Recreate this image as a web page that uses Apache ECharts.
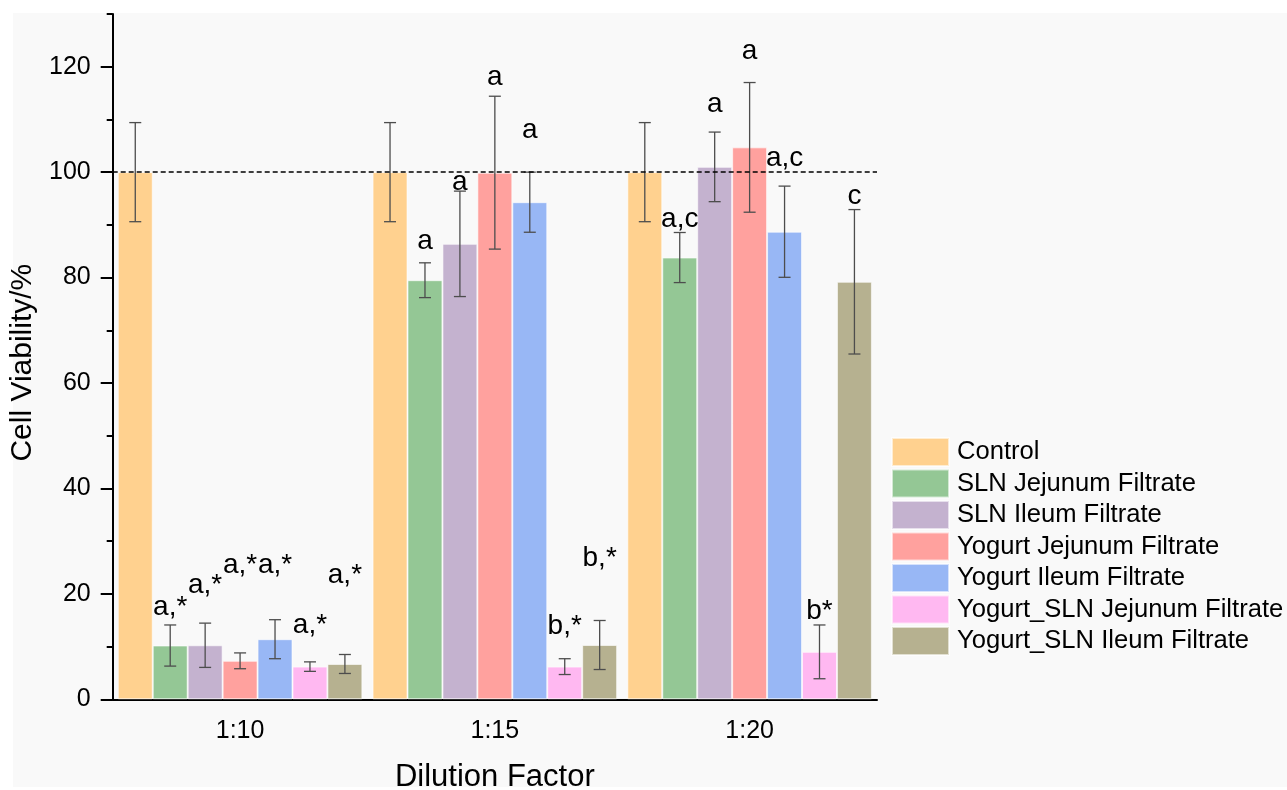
<!DOCTYPE html>
<html>
<head>
<meta charset="utf-8">
<script src="https://cdn.jsdelivr.net/npm/echarts@6.0.0/dist/echarts.min.js"></script>
<style>
html, body { margin: 0; padding: 0; background: #fff; }
#chart { width: 1287px; height: 790px; }
</style>
</head>
<body>
<div id="chart"></div>
<script>
const categories = ["1:10", "1:15", "1:20"];
const yTickValues = [0, 20, 40, 60, 80, 100, 120];
const seriesNames = [
	"Control",
	"SLN Jejunum Filtrate",
	"SLN Ileum Filtrate",
	"Yogurt Jejunum Filtrate",
	"Yogurt Ileum Filtrate",
	"Yogurt_SLN Jejunum Filtrate",
	"Yogurt_SLN Ileum Filtrate",
];
const colors = ["#FFD18F", "#94C795", "#C4B2CF", "#FFA19E", "#98B7F5", "#FFB8F1", "#B6B190"];

// means
const control = [100, 100, 100];
const slnJejunum = [10.2, 79.5, 83.8];
const slnIleum = [10.25, 86.4, 101.0];
const yogJejunum = [7.3, 99.9, 104.7];
const yogIleum = [11.4, 94.3, 88.7];
const ysJejunum = [6.2, 6.2, 9.0];
const ysIleum = [6.7, 10.3, 79.2];

// error (±)
const controlErr = [9.4, 9.4, 9.4];
const slnJejunumErr = [3.9, 3.3, 4.75];
const slnIleumErr = [4.2, 10.0, 6.6];
const yogJejunumErr = [1.5, 14.5, 12.3];
const yogIleumErr = [3.7, 5.7, 8.65];
const ysJejunumErr = [0.9, 1.5, 5.1];
const ysIleumErr = [1.8, 4.65, 13.7];

// significance letters and where they sit (in % units)
const controlLabels = ["", "", ""];
const slnJejunumLabels = ["a,*", "a", "a,c"];
const slnIleumLabels = ["a,*", "a", "a"];
const yogJejunumLabels = ["a,*", "a", "a"];
const yogIleumLabels = ["a,*", "a", "a,c"];
const ysJejunumLabels = ["a,*", "b,*", "b*"];
const ysIleumLabels = ["a,*", "b,*", "c"];

const controlLabelY = [0, 0, 0];
const slnJejunumLabelY = [17.5, 86.8, 91.1];
const slnIleumLabelY = [21.7, 98, 112.8];
const yogJejunumLabelY = [25.5, 118, 123];
const yogIleumLabelY = [25.5, 108, 102.6];
const ysJejunumLabelY = [14.1, 13.9, 16.75];
const ysIleumLabelY = [23.6, 26.75, 95.4];

const means = [control, slnJejunum, slnIleum, yogJejunum, yogIleum, ysJejunum, ysIleum];
const errs = [controlErr, slnJejunumErr, slnIleumErr, yogJejunumErr, yogIleumErr, ysJejunumErr, ysIleumErr];
const labels = [controlLabels, slnJejunumLabels, slnIleumLabels, yogJejunumLabels, yogIleumLabels, ysJejunumLabels, ysIleumLabels];
const labelYs = [controlLabelY, slnJejunumLabelY, slnIleumLabelY, yogJejunumLabelY, yogIleumLabelY, ysJejunumLabelY, ysIleumLabelY];

const FONT = "'Liberation Sans', Arial, sans-serif";
const CAT_GAP = 0.04;
const N = seriesNames.length;

const barWidthPx = (api) => (api.size([1, 0])[0] * (1 - CAT_GAP)) / N;

const barSeries = seriesNames.map((name, k) => ({
	name,
	type: "bar",
	data: means[k],
	barGap: "0%",
	barCategoryGap: "4%",
	itemStyle: { color: colors[k], borderColor: "rgba(255,255,255,0.6)", borderWidth: 1 },
	...(k === 0
		? {
				markLine: {
					silent: true,
					symbol: ["none", "none"],
					label: { show: false },
					lineStyle: { color: "#000", type: [5, 3], width: 1.5 },
					data: [{ yAxis: 100 }],
				},
			}
		: {}),
}));

const errSeries = seriesNames.map((_, k) => ({
	type: "custom",
	z: 3,
	data: means[k].map((m, i) => [i, m - errs[k][i], m + errs[k][i]]),
	renderItem: (params, api) => {
		const lo = api.coord([api.value(0), api.value(1)]);
		const hi = api.coord([api.value(0), api.value(2)]);
		const x = lo[0] + (k - (N - 1) / 2) * barWidthPx(api);
		const cap = 6;
		const style = { stroke: "#4d4d4d", lineWidth: 1.3 };
		return {
			type: "group",
			children: [
				{ type: "line", shape: { x1: x, y1: lo[1], x2: x, y2: hi[1] }, style },
				{ type: "line", shape: { x1: x - cap, y1: lo[1], x2: x + cap, y2: lo[1] }, style },
				{ type: "line", shape: { x1: x - cap, y1: hi[1], x2: x + cap, y2: hi[1] }, style },
			],
		};
	},
}));

const labelSeries = seriesNames.map((_, k) => ({
	type: "custom",
	z: 4,
	data: labelYs[k].map((y, i) => [i, y]),
	renderItem: (params, api) => {
		const text = labels[k][params.dataIndex];
		if (!text) return null;
		const p = api.coord([api.value(0), api.value(1)]);
		const x = p[0] + (k - (N - 1) / 2) * barWidthPx(api);
		return {
			type: "text",
			style: {
				x,
				y: p[1],
				text,
				fill: "#000",
				font: `28px ${FONT}`,
				align: "center",
				verticalAlign: "middle",
			},
		};
	},
}));

const chart = echarts.init(document.getElementById("chart"));
chart.setOption({
	animation: false,
	textStyle: { fontFamily: FONT },
	graphic: [
		{
			type: "rect",
			z: -10,
			silent: true,
			shape: { x: 13, y: 13, width: 1274, height: 774 },
			style: { fill: "#f9f9f9" },
		},
	],
	grid: { left: 112.7, right: 410, top: 14, bottom: 90.7, outerBoundsMode: "none" },
	legend: {
		orient: "vertical",
		left: 891,
		top: 437,
		padding: 0,
		itemWidth: 57,
		itemHeight: 28,
		itemGap: 1.5,
		icon: "rect",
		data: seriesNames,
		textStyle: { fontSize: 25.6, color: "#000", fontFamily: FONT, lineHeight: 28, padding: [0, 0, 0, 3] },
	},
	xAxis: [
		{
			type: "category",
			data: categories,
			name: "Dilution Factor",
			nameLocation: "middle",
			nameGap: 63,
			nameTextStyle: { fontSize: 31, color: "#000", fontFamily: FONT },
			axisLine: { lineStyle: { color: "#000", width: 2 } },
			axisTick: { alignWithLabel: true, length: 11, lineStyle: { color: "#000", width: 2 } },
			axisLabel: { fontSize: 25, color: "#000", margin: 19, fontFamily: FONT },
		},
		{
			type: "category",
			data: categories,
			position: "bottom",
			axisLine: { show: false },
			axisTick: { length: 5, lineStyle: { color: "#000", width: 2 } },
			axisLabel: { show: false },
		},
	],
	yAxis: [
		{
			type: "value",
			min: 0,
			max: 130,
			interval: 20,
			name: "Cell Viability/%",
			nameLocation: "middle",
			nameGap: 56,
			nameTextStyle: { fontSize: 30, color: "#000", fontFamily: FONT, padding: [0, 12, 0, 0] },
			axisLine: { show: true, lineStyle: { color: "#000", width: 2 } },
			axisTick: { show: true, length: 12, customValues: yTickValues, lineStyle: { color: "#000", width: 2 } },
			axisLabel: {
				fontSize: 25,
				color: "#000",
				margin: 22,
				fontFamily: FONT,
				customValues: yTickValues,
				formatter: (v) => (yTickValues.includes(v) ? String(v) : ""),
			},
			splitLine: { show: false },
		},
		{
			type: "value",
			min: 0,
			max: 130,
			interval: 10,
			position: "left",
			axisLine: { show: false },
			axisTick: { show: true, length: 6, lineStyle: { color: "#000", width: 2 } },
			axisLabel: { show: false },
			splitLine: { show: false },
		},
	],
	series: [...barSeries, ...errSeries, ...labelSeries],
});
</script>
</body>
</html>
